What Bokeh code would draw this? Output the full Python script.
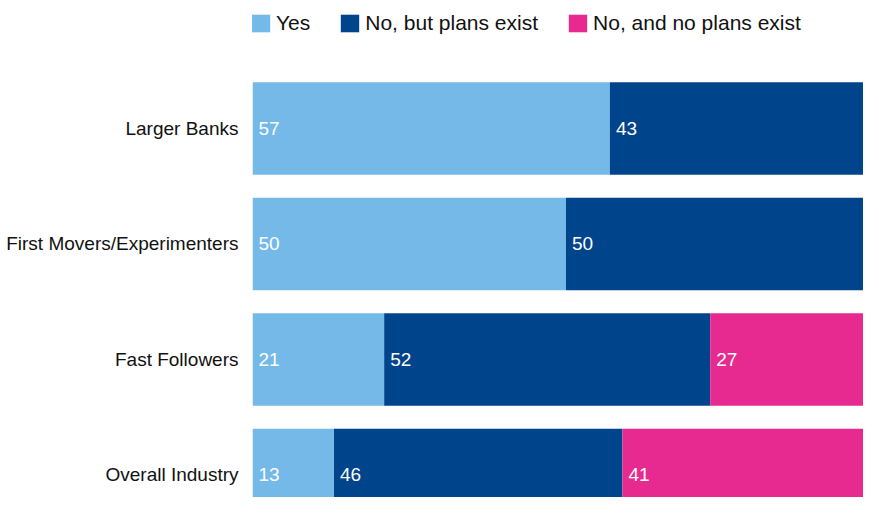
from bokeh.plotting import figure
from bokeh.models import ColumnDataSource, Range1d, FixedTicker, Legend, LegendItem
from bokeh.core.properties import value
from bokeh.embed import file_html
from bokeh.resources import INLINE

categories = ["Larger Banks", "First Movers/Experimenters", "Fast Followers", "Overall Industry"]
yes = [57, 50, 21, 13]
no_plans_exist = [43, 50, 52, 46]
no_no_plans = [0, 0, 27, 41]
series_names = ["Yes", "No, but plans exist", "No, and no plans exist"]
colors = ["#74B9E7", "#00448C", "#E62A8F"]

FONT = "Liberation Sans"

idx = list(range(len(categories)))
src = ColumnDataSource(dict(y=idx, yes=yes, plans=no_plans_exist, noplans=no_no_plans))

p = figure(width=863, height=497, output_backend="svg", toolbar_location=None,
           x_range=Range1d(0, 97.45), y_range=Range1d(3.195, -1.108),
           min_border_left=252, min_border_right=0, min_border_top=0, min_border_bottom=0)
p.outline_line_color = None
p.xgrid.visible = False
p.ygrid.visible = False
p.xaxis.visible = False

rs = p.hbar_stack(["yes", "plans", "noplans"], y="y", height=0.8, color=colors,
                  line_color=None, source=src)

# value labels
vals = [yes, no_plans_exist, no_no_plans]
lx, ly, lt = [], [], []
for i in idx:
    left = 0
    for s in range(3):
        v = vals[s][i]
        if v > 0:
            lx.append(left)
            ly.append(i)
            lt.append(str(v))
        left += v
p.text(x=lx, y=ly, text=lt, x_offset=6, text_color="white",
       text_font=value(FONT), text_font_size="19px", text_baseline="middle", text_align="left")

yax = p.yaxis[0]
yax.ticker = FixedTicker(ticks=idx)
yax.major_label_overrides = {i: c for i, c in zip(idx, categories)}
yax.axis_line_color = None
yax.major_tick_line_color = None
yax.minor_tick_line_color = None
yax.major_label_text_font = FONT
yax.major_label_text_font_size = "19px"
yax.major_label_text_color = "#111111"
yax.major_label_standoff = 8

legend = Legend(items=[LegendItem(label=n, renderers=[r]) for n, r in zip(series_names, rs)],
                orientation="horizontal", location=(-3, 462))
legend.border_line_color = None
legend.background_fill_alpha = 0
legend.padding = 0
legend.margin = 0
legend.spacing = 28
legend.glyph_width = 23
legend.glyph_height = 22
legend.label_standoff = 4
legend.label_text_font = FONT
legend.label_text_font_size = "21px"
legend.label_text_color = "#111111"
p.add_layout(legend, "center")

open("out.html", "w").write(file_html(p, INLINE))
